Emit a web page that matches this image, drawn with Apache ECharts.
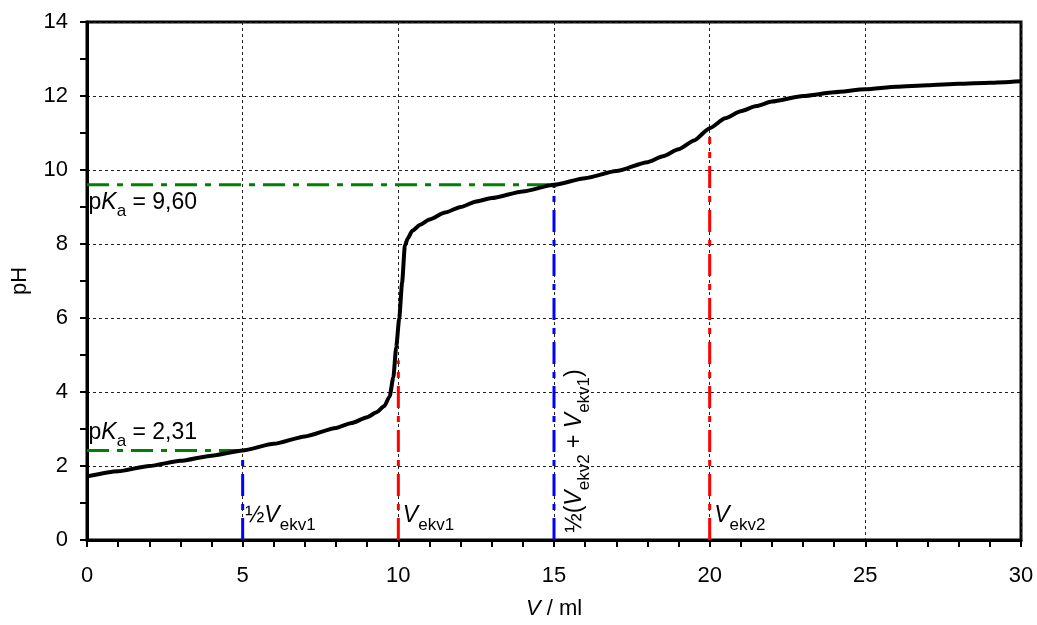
<!DOCTYPE html>
<html><head><meta charset="utf-8">
<script src="https://cdn.jsdelivr.net/npm/echarts@6/dist/echarts.min.js"></script>
<style>html,body{margin:0;padding:0;background:#fff}#c{width:1037px;height:625px}</style>
</head><body><div id="c"></div>
<script>
// Titration curve (V / ml vs pH)
const volume = [0,1,2,3,4,5,6,7,8,8.5,9,9.3,9.55,9.72,9.84,9.93,10.03,10.12,10.21,10.3,10.45,10.7,11,11.5,12,12.5,13,14,15,16,17,18,18.5,19,19.5,20,20.5,21,21.5,22,23,24,25,26,27,28,29,30];
const pHvalues = [1.72,1.86,2.0,2.14,2.28,2.42,2.6,2.8,3.03,3.16,3.32,3.45,3.62,3.88,4.4,5.2,6.0,6.95,7.95,8.15,8.36,8.52,8.66,8.85,9.0,9.15,9.24,9.42,9.60,9.78,9.97,10.21,10.37,10.56,10.8,11.13,11.4,11.59,11.73,11.85,12.0,12.1,12.18,12.25,12.29,12.33,12.36,12.40];

// Reference levels
const pKa1Level = 2.42;   // drawn level of the "pKa = 2,31" line
const pKa2Level = 9.60;
const halfEq1V = 5, eq1V = 10, midV = 15, eq2V = 20;
const eq1LineTop = 4.85;
const eq2LineTop = 10.89;

const xTickLabels = ['0','5','10','15','20','25','30'];
const yTickLabels = ['0','2','4','6','8','10','12','14'];

const F = '"Liberation Sans", Arial, sans-serif';
const rich = {
  n: {fontSize: 23, fontFamily: F, color: '#000', lineHeight: 30, verticalAlign: 'top'},
  i: {fontSize: 23, fontFamily: F, color: '#000', fontStyle: 'italic', lineHeight: 30, verticalAlign: 'top'},
  s: {fontSize: 17, fontFamily: F, color: '#000', lineHeight: 12, verticalAlign: 'top', padding: [12, 0, 0, 0]}
};
const richAxis = {
  n: {fontSize: 22, fontFamily: F, color: '#000'},
  i: {fontSize: 22, fontFamily: F, color: '#000', fontStyle: 'italic'}
};

const GREEN = '#008000', RED = '#ff0000', BLUE = '#0000ff';
const dashDot = [22, 8, 6, 8];

function refLine(points, color) {
  return {type: 'line', data: points, symbol: 'none', silent: true, z: 3,
    lineStyle: {color: color, width: 3, type: dashDot, cap: 'butt'}};
}
function textLabel(point, text, opts) {
  return {type: 'scatter', data: [point], symbolSize: 1, silent: true, z: 6,
    itemStyle: {color: 'rgba(0,0,0,0)', opacity: 1},
    label: Object.assign({show: true, position: [0, 0], color: '#000', opacity: 1, formatter: text, rich: rich}, opts)};
}

const chart = echarts.init(document.getElementById('c'), null, {renderer: 'canvas'});
chart.setOption({
  animation: false,
  backgroundColor: '#fff',
  grid: {left: 87, right: 16, top: 22, bottom: 83, show: true, borderColor: '#000', borderWidth: 3, backgroundColor: 'transparent'},
  xAxis: {
    type: 'value', min: 0, max: 30, interval: 5,
    name: '{i|V}{n| / ml}', nameLocation: 'middle', nameGap: 58,
    nameTextStyle: {rich: richAxis},
    axisLine: {show: true, lineStyle: {color: '#000', width: 3}},
    axisTick: {show: true, inside: false, length: 7, lineStyle: {color: '#000', width: 2}},
    minorTick: {show: true, splitNumber: 5, length: 7, lineStyle: {color: '#000', width: 2}},
    axisLabel: {fontSize: 22, fontFamily: F, color: '#000', margin: 25,
      formatter: function (v) { return xTickLabels[Math.round(v / 5)]; }},
    splitLine: {show: true, lineStyle: {color: '#222', width: 1, type: [3, 3]}}
  },
  yAxis: {
    type: 'value', min: 0, max: 14, interval: 2,
    name: 'pH', nameLocation: 'middle', nameGap: 56, nameRotate: 90,
    nameTextStyle: {fontSize: 22, fontFamily: F, color: '#000'},
    axisLine: {show: true, lineStyle: {color: '#000', width: 3}},
    axisTick: {show: true, inside: false, length: 7, lineStyle: {color: '#000', width: 2}},
    minorTick: {show: true, splitNumber: 2, length: 7, lineStyle: {color: '#000', width: 2}},
    axisLabel: {fontSize: 22, fontFamily: F, color: '#000', margin: 19,
      formatter: function (v) { return yTickLabels[Math.round(v / 2)]; }},
    splitLine: {show: true, lineStyle: {color: '#222', width: 1, type: [3, 3]}}
  },
  series: [
    refLine([[0, pKa2Level], [midV, pKa2Level]], GREEN),
    refLine([[0, pKa1Level], [halfEq1V, pKa1Level]], GREEN),
    refLine([[halfEq1V, 0], [halfEq1V, pKa1Level]], BLUE),
    refLine([[midV, 0], [midV, pKa2Level]], BLUE),
    refLine([[eq1V, 0], [eq1V, eq1LineTop]], RED),
    refLine([[eq2V, 0], [eq2V, eq2LineTop]], RED),
    {type: 'line', data: volume.map((v, k) => [v, pHvalues[k]]), symbol: 'none', z: 5,
      smooth: 0.2, smoothMonotone: 'x',
      lineStyle: {color: '#000', width: 4}},
    textLabel([0, pKa2Level], '{n|p}{i|K}{s|a}{n| = 9,60}', {align: 'left', verticalAlign: 'middle', offset: [2, 22]}),
    textLabel([0, pKa1Level], '{n|p}{i|K}{s|a}{n| = 2,31}', {align: 'left', verticalAlign: 'middle', offset: [2, -14]}),
    textLabel([halfEq1V, 0], '{n|½}{i|V}{s|ekv1}', {align: 'left', verticalAlign: 'middle', offset: [3, -20]}),
    textLabel([eq1V, 0], '{i|V}{s|ekv1}', {align: 'left', verticalAlign: 'middle', offset: [5, -20]}),
    textLabel([eq2V, 0], '{i|V}{s|ekv2}', {align: 'left', verticalAlign: 'middle', offset: [5, -20]}),
    textLabel([midV, 0], '{n|½(}{i|V}{s|ekv2}{n| + }{i|V}{s|ekv1}{n|)}', {align: 'left', verticalAlign: 'middle', rotate: 90, offset: [7, 25]})
  ]
});
</script></body></html>
